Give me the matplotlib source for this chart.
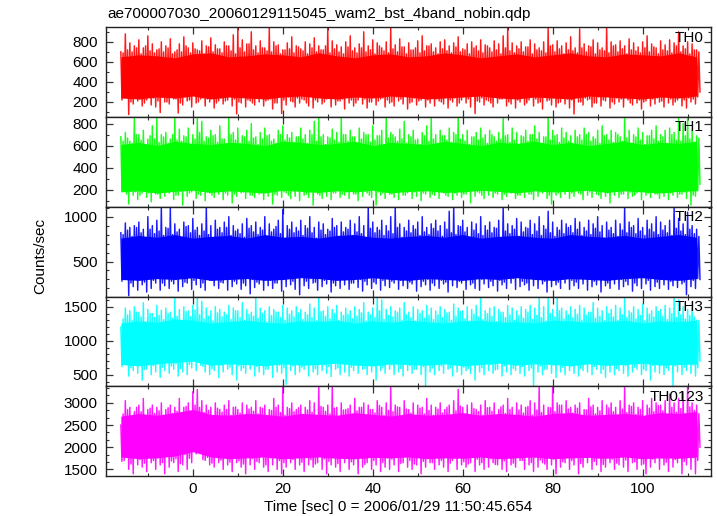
import numpy as np
import matplotlib
matplotlib.use("Agg")
import matplotlib.pyplot as plt
from matplotlib.ticker import MultipleLocator

plt.rcParams['font.family'] = ['Liberation Sans', 'DejaVu Sans']

title = "ae700007030_20060129115045_wam2_bst_4band_nobin.qdp"
xlabel = "Time [sec] 0 = 2006/01/29 11:50:45.654"
ylabel = "Counts/sec"
band_names = ["TH0", "TH1", "TH2", "TH3", "TH0123"]
band_colors = ["#ff0000", "#00ff00", "#0000ff", "#00ffff", "#ff00ff"]

# start of the light curve (sec from reference time); samples every 1 s
t_start = -16
core_step = 4

# per-second excursions (counts/sec):
# hi = biggest upward spike, lo = deepest dip, mid_hi / mid_lo = secondary ones
th0_hi = [700, 880, 790, 760, 820, 740, 860, 780, 720, 800,
          760, 830, 700, 780, 850, 740, 790, 720, 810, 760,
          840, 770, 730, 800, 760, 870, 940, 820, 780, 900,
          760, 810, 740, 940, 800, 770, 720, 790, 850, 760,
          730, 800, 780, 840, 760, 720, 940, 810, 770, 750,
          800, 860, 740, 780, 900, 760, 820, 790, 740, 800,
          940, 770, 830, 750, 790, 720, 810, 860, 760, 780,
          740, 800, 820, 760, 790, 850, 730, 780, 800, 760,
          820, 770, 740, 810, 780, 860, 940, 790, 760, 800,
          750, 820, 780, 740, 800, 940, 770, 810, 760, 790,
          850, 740, 930, 780, 760, 820, 790, 740, 940, 800,
          770, 810, 760, 830, 790, 750, 800, 860, 780, 740,
          810, 770, 820, 790, 900, 760, 800, 780, 720]
th0_lo = [260, 75, 180, 210, 160, 220, 170, 150, 95, 200,
          180, 230, 90, 170, 210, 150, 190, 230, 160, 200,
          140, 210, 180, 220, 160, 80, 190, 150, 210, 170,
          200, 160, 220, 130, 190, 85, 170, 210, 150, 190,
          220, 160, 140, 200, 180, 230, 150, 170, 210, 130,
          190, 160, 220, 180, 140, 200, 170, 230, 150, 190,
          160, 210, 180, 130, 200, 170, 220, 150, 190, 160,
          210, 180, 140, 200, 160, 220, 190, 150, 85, 200,
          170, 210, 150, 190, 230, 160, 180, 140, 200, 170,
          220, 160, 190, 130, 210, 170, 150, 200, 180, 140,
          80, 200, 170, 220, 150, 190, 160, 210, 140, 180,
          200, 150, 220, 170, 190, 130, 210, 160, 180, 200,
          150, 190, 170, 220, 160, 140, 200, 180, 300]
th0_mid_hi = [690, 720, 700, 740, 680, 760, 710, 690, 730, 700,
              740, 680, 720, 700, 760, 690, 730, 710, 680, 750,
              700, 730, 690, 760, 710, 680, 740, 700, 780, 720,
              690, 740, 710, 700, 760, 680, 720, 730, 690, 750,
              710, 680, 740, 700, 720, 760, 690, 730, 700, 680,
              750, 710, 690, 740, 700, 720, 680, 760, 710, 690,
              730, 700, 750, 680, 720, 740, 690, 710, 760, 700,
              680, 730, 710, 690, 750, 700, 720, 680, 740, 710,
              690, 760, 700, 720, 680, 740, 710, 690, 730, 700,
              750, 680, 720, 710, 690, 760, 700, 730, 680, 720,
              710, 690, 740, 700, 750, 680, 720, 710, 690, 760,
              700, 730, 680, 720, 710, 690, 740, 700, 750, 680,
              720, 710, 690, 760, 700, 730, 680, 720, 700]
th0_mid_lo = [220, 250, 200, 270, 230, 190, 260, 240, 210, 250,
              200, 260, 230, 190, 250, 220, 270, 200, 240, 230,
              260, 190, 240, 210, 270, 230, 200, 250, 220, 190,
              240, 270, 210, 230, 190, 260, 220, 250, 200, 240,
              230, 190, 260, 220, 250, 200, 240, 270, 210, 230,
              250, 220, 190, 260, 230, 200, 270, 210, 240, 220,
              200, 250, 230, 270, 190, 240, 210, 260, 220, 250,
              230, 200, 260, 220, 240, 190, 250, 230, 270, 210,
              240, 220, 190, 260, 230, 250, 200, 240, 220, 270,
              190, 250, 230, 200, 260, 220, 240, 190, 250, 230,
              220, 260, 200, 240, 230, 190, 250, 220, 270, 200,
              240, 230, 260, 190, 250, 220, 200, 260, 230, 240,
              210, 250, 230, 200, 260, 220, 240, 230, 250]

th1_hi = [680, 720, 640, 860, 700, 740, 660, 780, 860, 700,
          720, 660, 860, 750, 690, 760, 700, 860, 820, 680,
          740, 700, 780, 660, 860, 720, 760, 690, 740, 800,
          680, 720, 760, 700, 660, 740, 780, 700, 720, 680,
          760, 700, 740, 820, 860, 700, 680, 750, 720, 860,
          700, 740, 680, 760, 720, 700, 780, 690, 740, 860,
          720, 680, 750, 820, 700, 740, 660, 720, 780, 860,
          700, 740, 690, 760, 720, 860, 700, 740, 680, 720,
          760, 700, 740, 680, 720, 860, 700, 760, 720, 690,
          740, 700, 780, 720, 680, 860, 740, 700, 760, 720,
          690, 740, 700, 760, 720, 680, 740, 780, 700, 740,
          720, 680, 860, 740, 700, 760, 720, 690, 740, 780,
          700, 740, 760, 720, 860, 800, 860, 740, 690]
th1_lo = [240, 70, 150, 110, 170, 130, 90, 160, 120, 140,
          170, 110, 150, 60, 140, 180, 120, 150, 100, 170,
          130, 160, 110, 150, 80, 140, 170, 120, 150, 130,
          160, 110, 140, 70, 150, 130, 170, 120, 140, 100,
          150, 130, 60, 160, 120, 140, 110, 170, 130, 150,
          120, 160, 100, 140, 170, 130, 60, 150, 120, 160,
          130, 110, 150, 170, 120, 140, 100, 160, 130, 150,
          120, 170, 140, 110, 150, 130, 160, 80, 140, 170,
          120, 150, 130, 160, 110, 140, 170, 120, 150, 130,
          160, 110, 140, 170, 120, 70, 150, 130, 160, 120,
          140, 170, 110, 150, 130, 160, 120, 140, 80, 150,
          130, 160, 120, 140, 170, 110, 150, 130, 160, 120,
          140, 110, 150, 130, 160, 120, 60, 140, 250]
th1_mid_hi = [640, 670, 620, 700, 650, 610, 690, 660, 630, 680,
              620, 700, 650, 640, 680, 610, 660, 720, 640, 670,
              690, 630, 660, 610, 700, 650, 620, 680, 640, 670,
              610, 660, 690, 640, 620, 700, 650, 670, 630, 680,
              660, 620, 700, 640, 680, 610, 670, 650, 630, 700,
              640, 680, 620, 660, 700, 630, 650, 690, 610, 670,
              700, 640, 660, 620, 680, 650, 610, 690, 640, 660,
              620, 690, 650, 630, 700, 660, 640, 610, 680, 650,
              670, 620, 700, 640, 660, 690, 630, 650, 610, 680,
              640, 700, 660, 620, 680, 650, 690, 630, 670, 640,
              610, 680, 650, 700, 640, 660, 620, 690, 650, 630,
              700, 640, 670, 620, 680, 650, 610, 690, 660, 640,
              680, 620, 700, 650, 640, 690, 660, 630, 670]
th1_mid_lo = [190, 160, 210, 180, 150, 220, 170, 200, 160, 230,
              180, 210, 150, 190, 220, 170, 200, 160, 210, 180,
              150, 200, 230, 170, 190, 160, 210, 180, 220, 150,
              200, 170, 190, 220, 160, 210, 180, 150, 200, 190,
              220, 160, 180, 210, 150, 190, 230, 170, 200, 160,
              180, 210, 160, 200, 190, 150, 220, 180, 170, 210,
              160, 200, 220, 150, 190, 180, 210, 170, 230, 160,
              200, 180, 150, 210, 170, 220, 160, 190, 200, 180,
              150, 220, 190, 170, 200, 160, 210, 180, 150, 230,
              190, 160, 210, 180, 220, 150, 200, 170, 190, 210,
              170, 200, 160, 220, 180, 190, 150, 210, 170, 200,
              220, 160, 190, 180, 150, 210, 200, 170, 220, 160,
              190, 210, 170, 200, 160, 180, 220, 150, 190]

th2_hi = [820, 930, 880, 900, 940, 860, 1000, 900, 960, 1110,
          880, 1100, 920, 860, 940, 900, 980, 880, 920, 1110,
          900, 960, 880, 940, 1000, 900, 860, 920, 980, 900,
          940, 880, 1000, 920, 860, 960, 1080, 900, 940, 880,
          960, 900, 1000, 880, 940, 920, 860, 980, 900, 940,
          880, 960, 920, 1000, 900, 1110, 940, 880, 960, 900,
          1000, 1110, 920, 880, 960, 900, 940, 1000, 880, 920,
          960, 900, 940, 1060, 1110, 900, 960, 880, 940, 920,
          1000, 900, 940, 880, 960, 1110, 920, 900, 980, 940,
          880, 960, 920, 1000, 900, 1060, 940, 880, 960, 920,
          900, 980, 940, 880, 960, 920, 1000, 900, 940, 880,
          960, 920, 1110, 940, 900, 980, 880, 960, 920, 1000,
          940, 900, 960, 1110, 980, 920, 1050, 900, 860]
th2_lo = [300, 120, 220, 180, 240, 160, 200, 260, 180, 230,
          200, 250, 170, 220, 260, 190, 240, 210, 180, 290,
          230, 200, 260, 180, 220, 250, 190, 230, 140, 210,
          250, 180, 230, 200, 260, 170, 220, 240, 190, 130,
          230, 200, 260, 180, 220, 250, 160, 230, 200, 240,
          190, 260, 210, 170, 240, 200, 250, 180, 230, 210,
          260, 190, 230, 200, 250, 170, 220, 240, 180, 230,
          200, 250, 160, 230, 210, 260, 190, 240, 200, 180,
          250, 210, 230, 170, 240, 200, 260, 190, 220, 240,
          180, 230, 200, 250, 160, 220, 240, 200, 260, 190,
          230, 200, 250, 180, 220, 240, 160, 230, 200, 250,
          190, 220, 240, 170, 230, 200, 250, 180, 220, 200,
          240, 190, 230, 210, 250, 130, 220, 200, 300]
th2_mid_hi = [800, 850, 780, 880, 820, 760, 860, 810, 840, 790,
              870, 800, 830, 760, 890, 820, 850, 790, 840, 800,
              760, 860, 820, 880, 790, 840, 810, 770, 870, 830,
              800, 850, 780, 830, 890, 810, 760, 860, 820, 840,
              790, 870, 820, 760, 850, 800, 840, 880, 780, 830,
              860, 790, 830, 810, 760, 870, 820, 850, 790, 840,
              810, 880, 770, 840, 820, 860, 790, 830, 800, 870,
              840, 780, 860, 820, 800, 890, 830, 770, 850, 810,
              790, 850, 820, 870, 760, 840, 810, 860, 780, 830,
              870, 800, 840, 790, 860, 820, 780, 850, 810, 880,
              820, 860, 790, 840, 800, 870, 830, 760, 850, 810,
              780, 850, 820, 880, 810, 840, 790, 860, 830, 800,
              850, 820, 790, 870, 840, 800, 860, 810, 780]
th2_mid_lo = [280, 320, 260, 340, 300, 270, 350, 290, 310, 260,
              330, 280, 300, 350, 270, 320, 290, 340, 260, 310,
              290, 340, 270, 310, 350, 280, 320, 260, 330, 300,
              270, 310, 340, 290, 260, 330, 300, 350, 280, 320,
              340, 280, 310, 270, 330, 290, 350, 260, 320, 300,
              310, 260, 340, 300, 280, 320, 270, 330, 290, 350,
              280, 330, 290, 350, 270, 310, 340, 280, 300, 260,
              320, 290, 270, 340, 310, 280, 330, 300, 260, 340,
              300, 350, 280, 320, 290, 270, 340, 310, 330, 280,
              260, 320, 300, 340, 280, 330, 290, 270, 310, 350,
              290, 270, 330, 310, 350, 280, 300, 340, 260, 320,
              330, 300, 280, 310, 260, 340, 320, 290, 350, 270,
              310, 340, 280, 300, 330, 270, 320, 290, 310]

th3_hi = [1200, 1480, 1440, 1500, 1420, 1560, 1460, 1400, 1520, 1450,
          1480, 1420, 1650, 1460, 1500, 1440, 1520, 1650, 1580, 1480,
          1440, 1500, 1460, 1420, 1520, 1480, 1440, 1560, 1460, 1420,
          1650, 1480, 1440, 1500, 1460, 1420, 1520, 1480, 1440, 1500,
          1460, 1420, 1540, 1480, 1650, 1440, 1500, 1460, 1520, 1420,
          1480, 1440, 1500, 1460, 1560, 1420, 1480, 1650, 1600, 1460,
          1500, 1440, 1480, 1560, 1420, 1500, 1460, 1440, 1520, 1480,
          1440, 1500, 1460, 1420, 1540, 1480, 1440, 1500, 1460, 1520,
          1650, 1440, 1480, 1500, 1460, 1420, 1520, 1480, 1440, 1500,
          1460, 1520, 1480, 1650, 1500, 1620, 1460, 1650, 1480, 1440,
          1500, 1460, 1520, 1480, 1420, 1560, 1480, 1440, 1500, 1460,
          1520, 1480, 1650, 1440, 1500, 1460, 1540, 1480, 1440, 1500,
          1460, 1520, 1480, 1650, 1600, 1500, 1460, 1480, 1300]
th3_lo = [700, 480, 560, 520, 420, 580, 500, 540, 460, 560,
          520, 580, 480, 540, 500, 600, 560, 640, 540, 500,
          560, 460, 540, 580, 500, 420, 560, 520, 580, 480,
          540, 500, 580, 460, 540, 520, 360, 560, 500, 540,
          580, 480, 540, 500, 560, 520, 470, 580, 500, 540,
          480, 560, 520, 580, 500, 540, 420, 560, 520, 580,
          500, 540, 480, 560, 520, 580, 500, 340, 540, 500,
          560, 520, 580, 480, 540, 500, 560, 520, 420, 540,
          500, 560, 520, 580, 480, 540, 500, 560, 520, 480,
          560, 340, 540, 500, 580, 520, 460, 540, 500, 560,
          520, 480, 560, 540, 500, 580, 520, 460, 540, 500,
          560, 520, 480, 540, 580, 500, 560, 420, 540, 520,
          500, 560, 340, 540, 500, 560, 520, 480, 700]
th3_mid_hi = [1320, 1380, 1300, 1420, 1350, 1280, 1400, 1340, 1370, 1310,
              1400, 1330, 1360, 1290, 1430, 1350, 1450, 1380, 1320, 1360,
              1290, 1410, 1350, 1380, 1310, 1440, 1340, 1300, 1390, 1360,
              1330, 1400, 1280, 1370, 1420, 1340, 1300, 1390, 1350, 1410,
              1310, 1380, 1340, 1290, 1430, 1360, 1320, 1400, 1300, 1370,
              1390, 1320, 1360, 1410, 1290, 1380, 1340, 1440, 1310, 1370,
              1350, 1420, 1300, 1380, 1340, 1290, 1400, 1330, 1370, 1310,
              1380, 1340, 1410, 1300, 1360, 1430, 1320, 1290, 1390, 1350,
              1310, 1400, 1360, 1280, 1420, 1340, 1380, 1300, 1370, 1330,
              1420, 1310, 1370, 1340, 1290, 1400, 1350, 1440, 1320, 1380,
              1340, 1390, 1300, 1370, 1420, 1330, 1360, 1290, 1400, 1350,
              1300, 1380, 1340, 1410, 1320, 1370, 1290, 1390, 1350, 1430,
              1360, 1310, 1400, 1340, 1380, 1320, 1370, 1350, 1300]
th3_mid_lo = [620, 680, 600, 700, 640, 580, 690, 630, 660, 610,
              700, 630, 660, 590, 720, 650, 710, 680, 620, 670,
              590, 690, 640, 680, 610, 700, 630, 600, 670, 650,
              620, 690, 580, 660, 700, 640, 600, 680, 630, 710,
              610, 670, 640, 590, 700, 650, 620, 690, 600, 660,
              680, 610, 650, 700, 590, 670, 630, 710, 600, 660,
              640, 700, 590, 670, 630, 580, 690, 620, 660, 600,
              670, 630, 700, 600, 650, 710, 610, 590, 680, 640,
              600, 690, 650, 570, 700, 630, 670, 590, 660, 620,
              710, 600, 660, 630, 580, 690, 640, 720, 610, 670,
              630, 680, 590, 660, 700, 620, 650, 580, 690, 640,
              590, 670, 630, 700, 610, 660, 580, 680, 640, 710,
              650, 600, 690, 630, 670, 610, 660, 640, 600]

th0123_hi = [2500, 3050, 2900, 2800, 2950, 3100, 2850, 2950, 2900, 3000,
             2850, 2950, 2900, 3100, 2900, 3000, 3250, 3300, 3050, 2950,
             2900, 3000, 2850, 2950, 3050, 2900, 2850, 3000, 2950, 2900,
             3050, 2900, 2950, 2850, 3100, 2950, 3375, 2900, 3000, 2850,
             2950, 2900, 3050, 3000, 3375, 2900, 2950, 3375, 2900, 3000,
             2850, 2950, 3100, 2900, 3000, 2950, 2850, 3050, 2900, 3000,
             3375, 2950, 2900, 3050, 2850, 3000, 2950, 2900, 3100, 2950,
             2900, 3000, 2850, 2950, 3050, 3300, 2900, 2950, 3000, 2850,
             2950, 3050, 2900, 3000, 2850, 2950, 3100, 2900, 3000, 2950,
             2900, 3050, 3000, 3375, 2950, 2900, 3375, 3000, 2950, 3050,
             2900, 2950, 3000, 2850, 3100, 2950, 2900, 3050, 2950, 3000,
             2900, 3050, 3375, 2950, 3000, 2900, 3050, 2950, 3100, 3000,
             2950, 3050, 3200, 3000, 3100, 3250, 3375, 3000, 2950]
th0123_lo = [1700, 1500, 1400, 1600, 1550, 1450, 1650, 1500, 1600, 1400,
             1550, 1650, 1450, 1600, 1500, 1650, 1850, 1900, 1700, 1600,
             1550, 1650, 1500, 1600, 1450, 1650, 1550, 1400, 1600, 1500,
             1650, 1550, 1450, 1600, 1500, 1400, 1550, 1650, 1500, 1600,
             1450, 1600, 1550, 1650, 1500, 1400, 1600, 1550, 1450, 1650,
             1500, 1600, 1400, 1550, 1650, 1500, 1600, 1450, 1550, 1500,
             1600, 1450, 1650, 1550, 1500, 1600, 1400, 1550, 1650, 1500,
             1600, 1550, 1450, 1700, 1500, 1600, 1550, 1650, 1450, 1600,
             1500, 1550, 1650, 1600, 1500, 1450, 1600, 1550, 1700, 1500,
             1600, 1450, 1550, 1650, 1500, 1600, 1400, 1550, 1650, 1500,
             1600, 1400, 1550, 1650, 1500, 1600, 1450, 1550, 1650, 1500,
             1600, 1550, 1450, 1650, 1500, 1600, 1400, 1550, 1650, 1500,
             1600, 1450, 1550, 1650, 1400, 1600, 1500, 1400, 2000]
th0123_mid_hi = [2750, 2850, 2700, 2900, 2800, 2680, 2880, 2760, 2820, 2720,
                 2890, 2760, 2810, 2700, 2920, 2800, 2950, 2900, 2780, 2830,
                 2700, 2880, 2790, 2850, 2720, 2910, 2770, 2690, 2860, 2810,
                 2750, 2880, 2680, 2830, 2900, 2780, 2720, 2870, 2800, 2890,
                 2720, 2840, 2790, 2680, 2920, 2810, 2750, 2880, 2700, 2840,
                 2870, 2740, 2820, 2900, 2690, 2850, 2770, 2940, 2720, 2830,
                 2800, 2910, 2700, 2860, 2770, 2690, 2880, 2750, 2830, 2720,
                 2860, 2770, 2900, 2700, 2820, 2930, 2740, 2690, 2870, 2800,
                 2720, 2890, 2810, 2680, 2910, 2760, 2850, 2700, 2840, 2770,
                 2920, 2720, 2840, 2780, 2690, 2890, 2800, 2950, 2740, 2860,
                 2770, 2880, 2700, 2840, 2910, 2750, 2820, 2680, 2890, 2800,
                 2710, 2860, 2780, 2920, 2740, 2850, 2690, 2880, 2800, 2940,
                 2820, 2730, 2900, 2790, 2870, 2750, 2910, 2830, 2760]
th0123_mid_lo = [1680, 1780, 1620, 1820, 1720, 1640, 1800, 1700, 1760, 1650,
                 1810, 1690, 1740, 1630, 1840, 1750, 1900, 1880, 1720, 1770,
                 1640, 1800, 1710, 1780, 1660, 1830, 1690, 1620, 1790, 1740,
                 1680, 1810, 1600, 1760, 1830, 1700, 1650, 1790, 1720, 1840,
                 1660, 1770, 1720, 1620, 1850, 1740, 1680, 1800, 1630, 1760,
                 1790, 1670, 1740, 1830, 1610, 1780, 1700, 1850, 1650, 1760,
                 1730, 1840, 1630, 1790, 1700, 1620, 1810, 1680, 1760, 1650,
                 1790, 1700, 1830, 1640, 1750, 1860, 1670, 1620, 1800, 1730,
                 1650, 1820, 1740, 1610, 1840, 1690, 1780, 1640, 1770, 1700,
                 1850, 1650, 1770, 1710, 1620, 1820, 1730, 1880, 1670, 1790,
                 1700, 1810, 1630, 1770, 1840, 1680, 1750, 1610, 1820, 1730,
                 1640, 1790, 1710, 1850, 1670, 1780, 1620, 1810, 1730, 1870,
                 1750, 1660, 1830, 1720, 1800, 1680, 1840, 1760, 1700]

# edges of the densely filled core of each curve, every 4 s (counts/sec)
th0_core_hi = [650, 670, 660, 640, 680, 690, 650, 660, 680, 670, 650,
               690, 660, 640, 670, 680, 650, 660, 690, 670, 640, 660,
               680, 650, 670, 690, 660, 650, 680, 670, 660, 690, 650]
th0_core_lo = [240, 230, 250, 240, 260, 230, 250, 240, 230, 250, 260,
               240, 230, 250, 240, 260, 250, 230, 240, 250, 260, 240,
               230, 250, 240, 230, 260, 250, 240, 230, 250, 240, 260]
th1_core_hi = [610, 630, 600, 640, 620, 610, 630, 620, 600, 640, 630,
               610, 620, 640, 600, 630, 620, 610, 640, 620, 600, 630,
               620, 640, 610, 630, 600, 620, 640, 610, 630, 620, 640]
th1_core_lo = [180, 190, 170, 185, 195, 175, 190, 180, 170, 195, 185,
               175, 190, 180, 195, 170, 185, 190, 175, 180, 195, 185,
               170, 190, 180, 185, 195, 175, 190, 180, 170, 185, 190]
th2_core_hi = [760, 790, 770, 800, 760, 780, 790, 760, 800, 770, 780,
               760, 790, 800, 770, 760, 780, 790, 770, 800, 760, 780,
               790, 770, 760, 800, 780, 770, 790, 760, 780, 800, 770]
th2_core_lo = [300, 290, 310, 300, 320, 290, 300, 310, 290, 300, 320,
               310, 290, 300, 320, 300, 290, 310, 300, 290, 310, 300,
               320, 300, 290, 310, 300, 290, 310, 320, 300, 290, 310]
th3_core_hi = [1260, 1290, 1270, 1320, 1300, 1260, 1280, 1300, 1270, 1260, 1290,
               1280, 1300, 1260, 1290, 1270, 1300, 1280, 1260, 1290, 1300, 1270,
               1280, 1260, 1300, 1290, 1270, 1280, 1300, 1260, 1290, 1280, 1300]
th3_core_lo = [650, 630, 660, 680, 700, 640, 660, 650, 630, 660, 640,
               650, 670, 640, 630, 660, 650, 640, 660, 630, 650, 670,
               640, 660, 650, 630, 660, 640, 650, 670, 640, 650, 660]
th0123_core_hi = [2700, 2760, 2720, 2780, 2850, 2740, 2720, 2760, 2740, 2700, 2760,
                  2740, 2720, 2780, 2740, 2700, 2760, 2720, 2740, 2780, 2720, 2760,
                  2740, 2700, 2760, 2780, 2720, 2740, 2760, 2720, 2780, 2760, 2800]
th0123_core_lo = [1780, 1740, 1760, 1800, 1900, 1780, 1740, 1760, 1780, 1740, 1760,
                  1780, 1750, 1740, 1770, 1760, 1780, 1740, 1760, 1750, 1780, 1740,
                  1760, 1780, 1740, 1760, 1770, 1750, 1780, 1740, 1760, 1750, 1780]

highs = [th0_hi, th1_hi, th2_hi, th3_hi, th0123_hi]
lows = [th0_lo, th1_lo, th2_lo, th3_lo, th0123_lo]
mid_highs = [th0_mid_hi, th1_mid_hi, th2_mid_hi, th3_mid_hi, th0123_mid_hi]
mid_lows = [th0_mid_lo, th1_mid_lo, th2_mid_lo, th3_mid_lo, th0123_mid_lo]
core_highs = [th0_core_hi, th1_core_hi, th2_core_hi, th3_core_hi, th0123_core_hi]
core_lows = [th0_core_lo, th1_core_lo, th2_core_lo, th3_core_lo, th0123_core_lo]

y_limits = [(50, 945), (45, 860), (110, 1110), (330, 1650), (1350, 3375)]
y_major = [200, 200, 500, 500, 500]
y_minor = [100, 100, 100, 100, 500 / 3]
x_limits = (-19.3, 115.2)

W, H = 717, 516
fig = plt.figure(figsize=(W / 100, H / 100), dpi=100)

left_px, right_px = 106, 711
top_px, bottom_px = 27.3, 476.0
panel_h = (bottom_px - top_px) / 5

for i in range(5):
    y_top = top_px + i * panel_h
    ax = fig.add_axes([left_px / W, 1 - (y_top + panel_h) / H,
                       (right_px - left_px) / W, panel_h / H])
    col = band_colors[i]

    nc = min(len(core_highs[i]), len(core_lows[i]))
    t_core = t_start + core_step * np.arange(nc)
    ax.fill_between(t_core, core_lows[i][:nc], core_highs[i][:nc],
                    color=col, lw=0)

    n = min(len(highs[i]), len(lows[i]), len(mid_highs[i]), len(mid_lows[i]))
    t_sec = t_start + np.arange(n, dtype=float)
    ts = np.column_stack([t_sec, t_sec + 0.25, t_sec + 0.5, t_sec + 0.75]).ravel()
    vs = np.column_stack([np.asarray(highs[i][:n], float),
                          np.asarray(mid_lows[i][:n], float),
                          np.asarray(mid_highs[i][:n], float),
                          np.asarray(lows[i][:n], float)]).ravel()
    ax.plot(ts, vs, color=col, lw=1.05, alpha=0.9)

    ax.set_xlim(*x_limits)
    ax.set_ylim(*y_limits[i])
    ax.xaxis.set_major_locator(MultipleLocator(20))
    ax.xaxis.set_minor_locator(MultipleLocator(10))
    ax.yaxis.set_major_locator(MultipleLocator(y_major[i]))
    ax.yaxis.set_minor_locator(MultipleLocator(y_minor[i]))
    ax.tick_params(which='both', direction='in', top=True, right=True,
                   colors='#333333', labelcolor='black', labelsize=11)
    ax.tick_params(which='major', length=5, width=0.9)
    ax.tick_params(which='minor', length=2.5, width=0.8)
    ax.tick_params(axis='y', pad=6)
    ax.tick_params(axis='x', pad=4)
    for sp in ax.spines.values():
        sp.set_color('#222222')
        sp.set_linewidth(1.0)
    if i < 4:
        ax.tick_params(axis='x', labelbottom=False)
    ax.text(0.988, 0.885, band_names[i], transform=ax.transAxes,
            ha='right', va='center', fontsize=11, color='black')

fig.text(107 / W, 1 - 18 / H, title, ha='left', va='baseline', fontsize=11)
fig.text(398 / W, 1 - 507 / H, xlabel, ha='center', va='center', fontsize=11)
fig.text(40 / W, 1 - 256 / H, ylabel, ha='center', va='center',
         rotation=90, fontsize=11)

fig.savefig("out.png", dpi=100)
